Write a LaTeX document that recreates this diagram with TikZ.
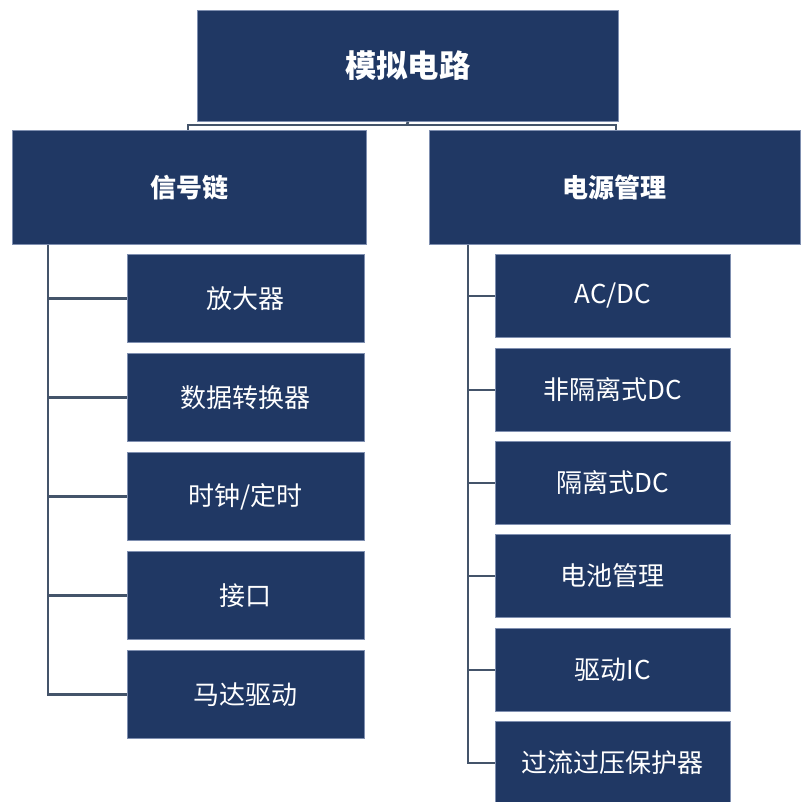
\documentclass[tikz,border=0pt]{standalone}
\usepackage{fontspec}
\setmainfont{Noto Sans CJK SC}
\definecolor{boxfill}{HTML}{203864}
\definecolor{boxline}{HTML}{7F8FB0}
\definecolor{conn}{HTML}{44546A}
\begin{document}
\begin{tikzpicture}[x=0.75pt,y=-0.75pt,
  box/.style={draw=boxline,line width=0.6pt,fill=boxfill,text=white,inner sep=0pt,anchor=north west},
  conline/.style={draw=conn,line width=2pt},
  childtext/.style={font=\fontsize{19.5}{23}\selectfont}]
\useasboundingbox (0,0) rectangle (800,802);
% top
\node[box,minimum width=421*0.75pt,minimum height=111*0.75pt,font=\fontsize{23.5}{27}\selectfont\bfseries] (top) at (197,10) {模拟电路};
\node[box,minimum width=354*0.75pt,minimum height=114*0.75pt,font=\fontsize{19.5}{23}\selectfont\bfseries] (sig) at (12,130) {信号链};
\node[box,minimum width=371*0.75pt,minimum height=114*0.75pt,font=\fontsize{19.5}{23}\selectfont\bfseries] (pwr) at (429,130) {电源管理};
% left children
\foreach \n/\y/\t in {l1/254/{放大器}, l2/353/{数据转换器}, l3/452/{时钟/定时}, l4/551/{接口}, l5/650/{马达驱动}}{
  \node[box,childtext,minimum width=237*0.75pt,minimum height=88*0.75pt] (\n) at (127,\y) {\t};
}
% right children
\foreach \n/\y/\t in {r1/254/{AC/DC}, r2/348/{非隔离式DC}, r3/441/{隔离式DC}, r4/534/{电池管理}, r5/628/{驱动IC}, r6/721/{过流过压保护器}}{
  \node[box,childtext,minimum width=235*0.75pt,minimum height=83*0.75pt] (\n) at (495,\y) {\t};
}
% connectors
\coordinate (hb) at (407,125);
\draw[conline] (top.south) -- (hb);
\draw[conline] (sig.north -| 188,0) -- (188,125) -- (616,125) -- (pwr.north -| 616,0);
\draw[conline] (sig.south -| 48,0) -- (l5.west -| 48,0) -- (l5.west);
\foreach \n in {l1,l2,l3,l4}{ \draw[conline] (\n.west -| 48,0) -- (\n.west); }
\draw[conline] (pwr.south -| 468,0) -- (r6.west -| 468,0) -- (r6.west);
\foreach \n in {r1,r2,r3,r4,r5}{ \draw[conline] (\n.west -| 468,0) -- (\n.west); }
\end{tikzpicture}
\end{document}
